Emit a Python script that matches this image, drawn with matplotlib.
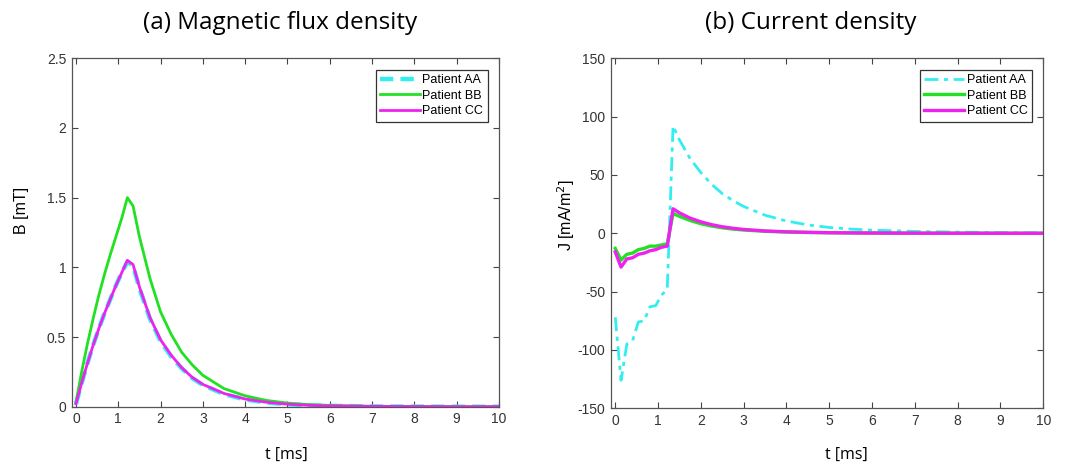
import matplotlib
matplotlib.use("Agg")
import matplotlib.pyplot as plt
from matplotlib.ticker import FuncFormatter

plt.rcParams['axes.unicode_minus'] = False

# time axis [ms]
t = [0, 0.135, 0.27, 0.405, 0.54, 0.675, 0.81, 0.945, 1.08, 1.215, 1.35, 1.5, 1.75, 2.0,
     2.25, 2.5, 2.75, 3.0, 3.5, 4.0, 4.5, 5.0, 5.5, 6.0, 7.0, 8.0, 9.0, 10.0]

# (a) magnetic flux density [mT]
b_aa = [0.02, 0.17, 0.31, 0.44, 0.56, 0.67, 0.77, 0.87, 0.96, 1.04, 1.01, 0.85, 0.63, 0.47,
        0.36, 0.275, 0.205, 0.155, 0.09, 0.052, 0.03, 0.017, 0.01, 0.006, 0.002, 0.001, 0, 0]
b_bb = [0.03, 0.25, 0.45, 0.63, 0.80, 0.95, 1.09, 1.22, 1.35, 1.50, 1.44, 1.22, 0.92, 0.68,
        0.52, 0.39, 0.30, 0.225, 0.13, 0.078, 0.045, 0.026, 0.015, 0.009, 0.003, 0.001, 0, 0]
b_cc = [0.02, 0.17, 0.31, 0.44, 0.56, 0.67, 0.77, 0.87, 0.96, 1.05, 1.02, 0.86, 0.64, 0.48,
        0.37, 0.28, 0.21, 0.16, 0.095, 0.055, 0.032, 0.018, 0.01, 0.006, 0.002, 0.001, 0, 0]

# (b) current density [mA/m^2]
j_aa = [-72, -126, -95, -92, -76, -75, -63, -62, -53, -48, 92, 80, 64, 52,
        42, 34, 28, 23, 15.5, 10.5, 7.2, 5.0, 3.6, 2.7, 1.6, 1.0, 0.6, 0.3]
j_bb = [-13, -23, -18, -17, -14, -13, -11, -11, -10, -9, 17, 14.5, 11, 8.2,
        6.2, 4.7, 3.6, 2.8, 1.7, 1.1, 0.7, 0.45, 0.3, 0.2, 0.1, 0.05, 0.02, 0]
j_cc = [-16, -29, -22, -21, -18, -17, -15, -14, -12, -11, 21, 17.5, 13, 9.8,
        7.4, 5.6, 4.3, 3.3, 2.0, 1.25, 0.8, 0.5, 0.33, 0.22, 0.1, 0.05, 0.02, 0]

patients = ["Patient AA", "Patient BB", "Patient CC"]
c_cyan = "#33eef0"
c_green = "#22e022"
c_mag = "#ee22ee"

fig = plt.figure(figsize=(10.77, 4.70), dpi=100)
ax1 = fig.add_axes([0.0666, 0.1347, 0.3967, 0.7413])
ax2 = fig.add_axes([0.5673, 0.1313, 0.4014, 0.7447])

ax1.plot(t, b_aa, color=c_cyan, lw=3.2, ls=(0, (3, 1.6)), label=patients[0])
ax1.plot(t, b_bb, color=c_green, lw=2, label=patients[1])
ax1.plot(t, b_cc, color=c_mag, lw=2, label=patients[2])
ax1.set_ylim(0, 2.5)
ax1.set_yticks([0, 0.5, 1, 1.5, 2, 2.5])

ax2.plot(t, j_aa, color=c_cyan, lw=2, ls=(0, (5, 2, 1.5, 2)), label=patients[0])
ax2.plot(t, j_bb, color=c_green, lw=2.4, label=patients[1])
ax2.plot(t, j_cc, color=c_mag, lw=2.4, label=patients[2])
ax2.set_ylim(-150, 150)
ax2.set_yticks([-150, -100, -50, 0, 50, 100, 150])

fmt = FuncFormatter(lambda v, p: "%g" % v)
for ax in (ax1, ax2):
  ax.set_xlim(-0.1, 10)
  ax.set_xticks(range(0, 11))
  ax.yaxis.set_major_formatter(fmt)
  ax.tick_params(direction="in", top=True, right=True, length=4, width=0.8,
                 colors="#444444", labelsize=10, labelcolor="#333333", pad=4)
  for s in ax.spines.values():
    s.set_color("#555555")
    s.set_linewidth(0.9)
  for lbl in ax.get_xticklabels() + ax.get_yticklabels():
    lbl.set_family("Liberation Sans")
  leg = ax.legend(loc="upper right", prop={"family": "Liberation Sans", "size": 9},
                  handlelength=3.2, handletextpad=0.2, labelspacing=0.3,
                  borderpad=0.35, borderaxespad=0.9, fancybox=False, framealpha=1)
  leg.get_frame().set_edgecolor("#333333")
  leg.get_frame().set_linewidth(0.9)

fig.text(0.2597, 0.951, "(a) Magnetic flux density", ha="center", va="center",
         fontsize=17.5, family="Open Sans")
fig.text(0.753, 0.951, "(b) Current density", ha="center", va="center",
         fontsize=17.5, family="Open Sans")
fig.text(0.266, 0.032, "t [ms]", ha="center", va="center", fontsize=11.5, family="Open Sans")
fig.text(0.786, 0.032, "t [ms]", ha="center", va="center", fontsize=11.5, family="Open Sans")
fig.text(0.020, 0.552, "B [mT]", ha="center", va="center", rotation=90, fontsize=11.5,
         family="Liberation Sans")
fig.text(0.526, 0.543, "J [mA/m$^2$]", ha="center", va="center", rotation=90, fontsize=11.5,
         family="Liberation Sans")

fig.savefig("out.png", dpi=100)
